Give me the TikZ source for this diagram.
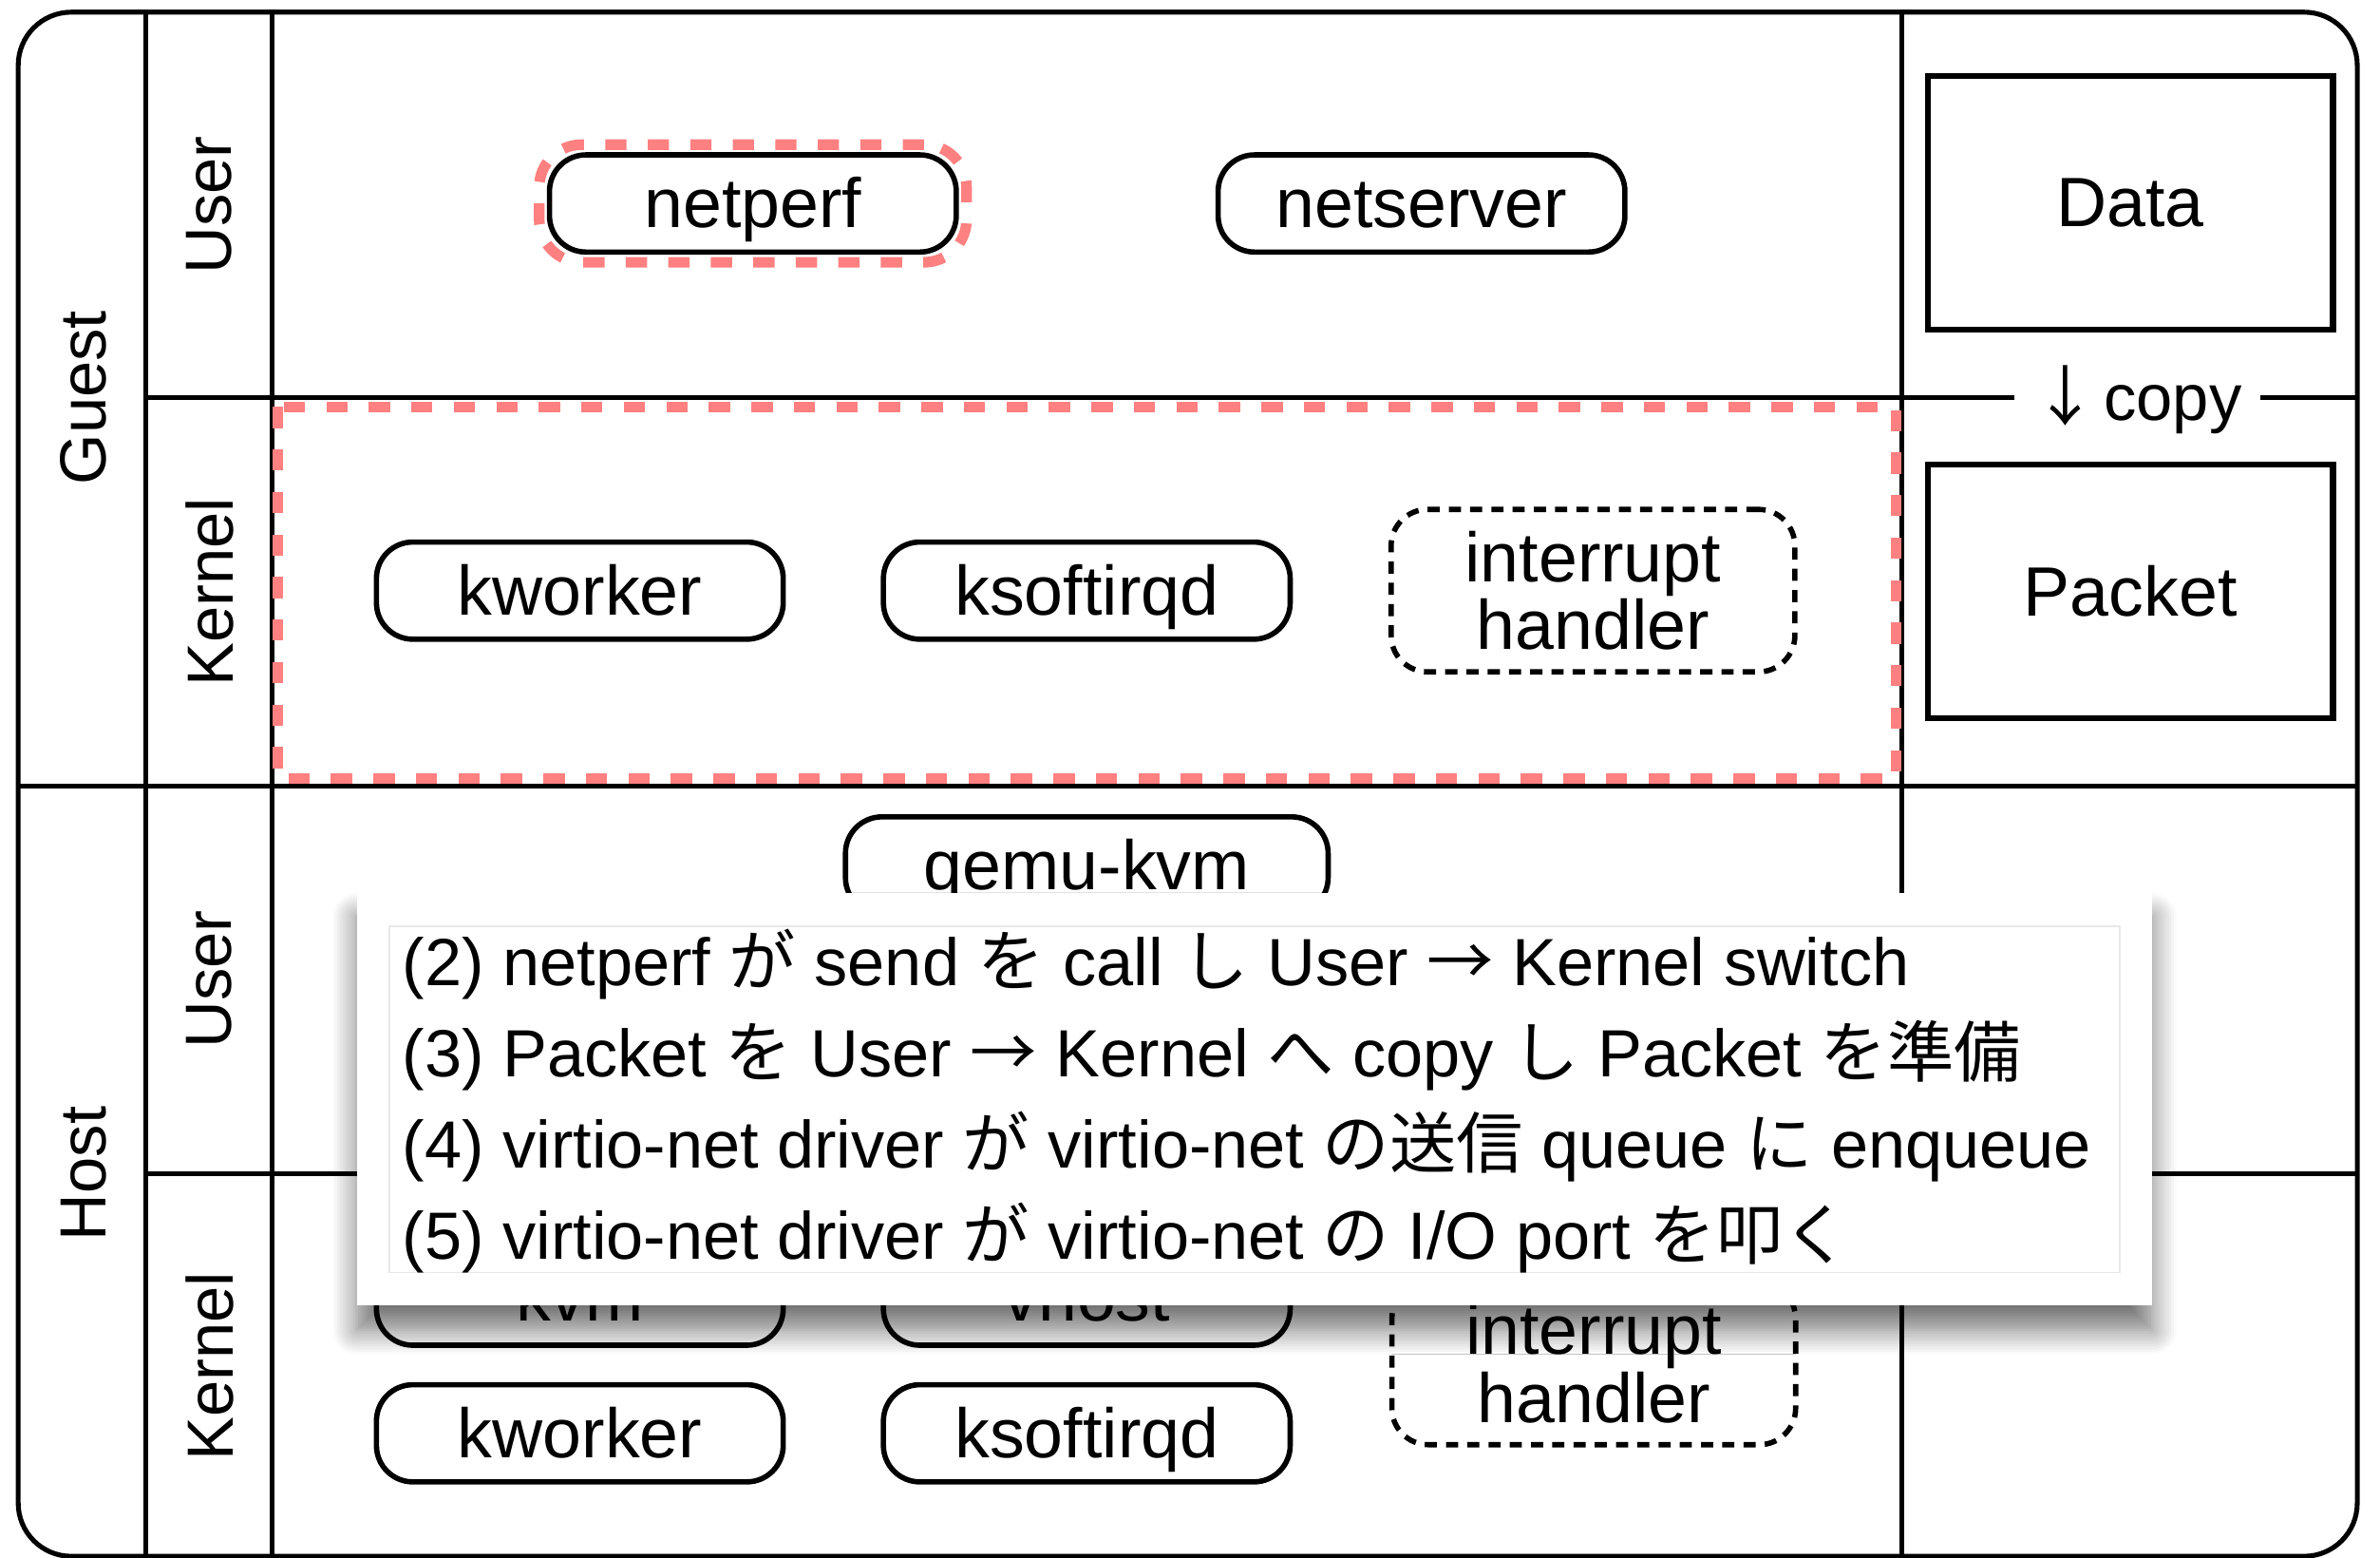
\documentclass[tikz,border=0pt]{standalone}
\usepackage{fontspec}
\setmainfont{Liberation Sans}
\newfontfamily\jp{Noto Sans CJK JP}
\usetikzlibrary{positioning, fit, shadows.blur}

\definecolor{focusred}{HTML}{FF8080}
\newcommand\procfont{\fontsize{46}{45}\selectfont}
\newcommand\labfont{\fontsize{43}{45}\selectfont}
\newcommand\notefont{\fontsize{44}{60}\selectfont}

\begin{document}
\begin{tikzpicture}[
  x=1pt, y=-1pt,
  lane/.style={line width=3.2pt},
  lanelabel/.style={rotate=90, font=\labfont},
  proc/.style={draw, line width=3.5pt, rounded corners=24pt, fill=white,
               minimum width=268pt, minimum height=64pt, inner sep=0pt,
               text height=35pt, text depth=3pt, font=\procfont},
  handler/.style={proc, dash pattern=on 8pt off 6pt, minimum height=107pt,
                  text height=, text depth=, align=center},
  buf/.style={draw, line width=4pt, minimum width=267pt, minimum height=167pt,
              font=\procfont},
  focus/.style={draw=focusred, line width=7pt, dash pattern=on 14pt off 14pt},
]
\useasboundingbox (0,0) rectangle (1568,1026);

% ---- lanes ----
\draw[lane, rounded corners=35pt] (12,8) rectangle (1553,1025);
\draw[lane] (96,8) -- (96,1025);
\draw[lane] (179,8) -- (179,1025);
\draw[lane] (1253,8) -- (1253,1025);
\draw[lane] (96,262) -- (1553,262);
\draw[lane] (12,518) -- (1553,518);
\draw[lane] (96,773) -- (1553,773);

\node[lanelabel] (guest) at (55,262) {Guest};
\node[lanelabel] (host)  at (55,773) {Host};
\node[lanelabel] (guser)   at (138,135) {User};
\node[lanelabel] (gkernel) at (138,390) {Kernel};
\node[lanelabel] (huser)   at (138,645) {User};
\node[lanelabel] (hkernel) at (138,900) {Kernel};

% ---- guest ----
\node[proc] (netperf) at (496,134) {netperf};
\node[proc, right=169pt of netperf] (netserver) {netserver};
\node[focus, rounded corners=28pt, fit=(netperf), inner sep=5pt] (netperfmark) {};

\node[proc] (gkworker) at (382,389) {kworker};
\node[proc, right=62.5pt of gkworker] (gsoftirq) {ksoftirqd};
\node[handler, minimum width=266pt, right=63pt of gsoftirq] (ghandler) {interrupt\\handler};
\draw[focus] (183,268) rectangle (1249,513);

% ---- data / packet ----
\node[buf] (data) at (1403.5,133.5) {Data};
\node[buf, below=85pt of data] (packet) {Packet};
\node[fill=white, inner xsep=12pt, font=\labfont] (copy) at (1408,263)
  {{\jp ↓}\hspace{4pt}copy};

% ---- host ----
\node[proc, minimum width=318pt] (qemu) at (716,570) {qemu-kvm};
\node[proc] (kvm) at (382,854) {kvm};
\node[proc, right=62.5pt of kvm] (vhost) {vhost};
\node[proc, below=22.5pt of kvm] (hkworker) {kworker};
\node[proc, right=62.5pt of hkworker] (hsoftirq) {ksoftirqd};
\node[handler, minimum width=266pt] (hhandler) at (1050,898) {interrupt\\handler};

% ---- note ----
\node[fill=white, minimum width=1183pt, minimum height=272pt,
      blur shadow={shadow xshift=0pt, shadow yshift=-16pt,
                   shadow blur radius=16pt, shadow blur steps=10,
                   shadow opacity=55}] (noteback) at (826.5,724) {};
\node[draw=gray!18, line width=1pt, minimum width=1140pt,
      minimum height=228pt] (noteframe) at (noteback) {};
\node[anchor=west, align=left, font=\notefont, inner sep=0pt] (note) at (265,725)
  {(2) netperf {\jp が} send {\jp を} call {\jp し} User {\jp →} Kernel switch\\
   (3) Packet {\jp を} User {\jp →} Kernel {\jp へ} copy {\jp し} Packet {\jp を準備}\\
   (4) virtio-net driver {\jp が} virtio-net {\jp の送信} queue {\jp に} enqueue\\
   (5) virtio-net driver {\jp が} virtio-net {\jp の} I/O port {\jp を叩く}};

\end{tikzpicture}
\end{document}
